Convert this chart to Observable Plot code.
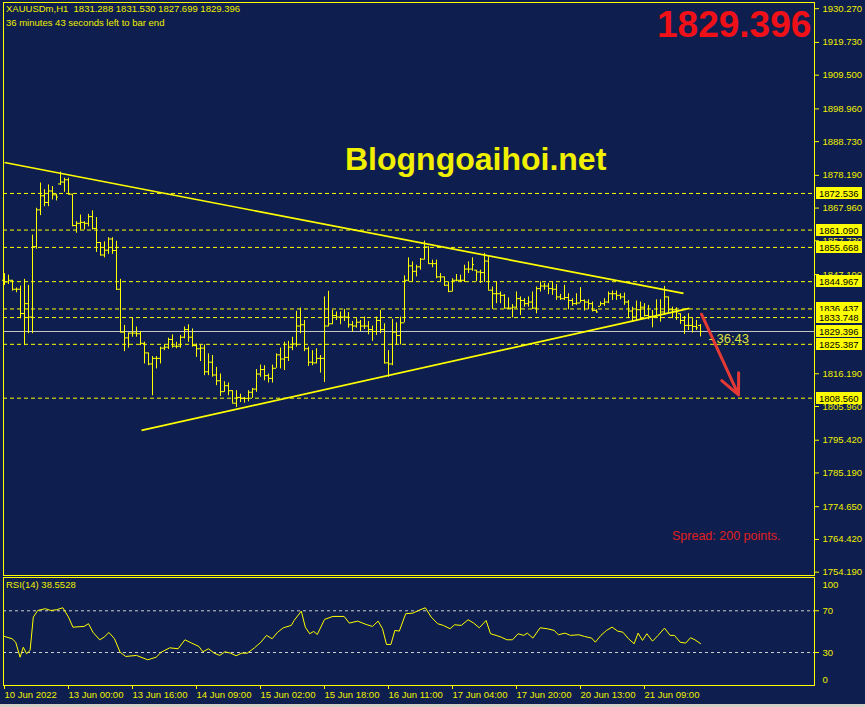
<!DOCTYPE html>
<html><head><meta charset="utf-8">
<script src="https://cdn.jsdelivr.net/npm/d3@7"></script>
<script src="https://cdn.jsdelivr.net/npm/@observablehq/plot@0.6"></script>
<style>
 html,body{margin:0;padding:0;background:#0e1e4e;}
 #wrap{position:relative;width:865px;height:707px;background:#0e1e4e;overflow:hidden;font-family:"Liberation Sans",Arial,sans-serif;}
 #main,#rsi{position:absolute;left:0;}
 #main{top:0;} #rsi{top:577px;}
 .t{position:absolute;white-space:nowrap;line-height:1;}
</style></head><body>
<div id="wrap">
<div id="main"></div><div id="rsi"></div>
<div class="t" id="hdr1" style="left:6px;top:4px;font-size:9.5px;color:#f0f000;"></div>
<div class="t" id="hdr2" style="left:6px;top:18px;font-size:9.5px;color:#f0f000;"></div>
<div class="t" id="bigPrice" style="left:657px;top:6px;font-size:37px;font-weight:bold;color:#f01018;"></div>
<div class="t" style="left:345px;top:143px;font-size:32px;font-weight:bold;color:#f0f000;">Blogngoaihoi.net</div>
<div class="t" style="left:672px;top:530px;font-size:12.5px;color:#e02020;">Spread: 200 points.</div>
<div class="t" id="rsiLbl" style="left:6px;top:580px;font-size:9.5px;color:#f0f000;"></div>
<div style="position:absolute;left:0;top:704px;width:865px;height:3px;background:#d4d0c8"></div>
</div>
<script>
// ---------- DATA ----------
const symbol = "XAUUSDm,H1";
const opens = [
1845.4,1844.9,1845.4,1842.6,1842.6,1835.0,1838.1,1833.9,1855.9,1867.4,
1871.8,1869.7,1873.3,1872.1,1875.5,1876.1,1876.8,1872.3,1862.5,1863.2,
1863.5,1863.2,1865.3,1861.6,1857.2,1853.3,1854.8,1858.3,1854.7,1842.6,
1829.2,1827.4,1828.9,1828.9,1828.7,1825.7,1822.7,1819.25,1821.0,1821.0,
1824.2,1824.5,1826.9,1824.8,1824.8,1827.6,1830.0,1827.6,1825.0,1824.0,
1824.2,1816.8,1819.8,1815.8,1814.0,1810.6,1812.45,1810.9,1807.0,1808.8,
1808.5,1808.5,1810.4,1811.4,1816.1,1817.5,1815.6,1814.75,1817.9,1822.1,
1820.8,1821.3,1824.5,1825.5,1831.1,1831.5,1824.0,1819.8,1819.6,1821.0,
1821.0,1831.1,1831.8,1834.4,1833.9,1833.9,1833.9,1831.5,1831.1,1832.3,
1831.1,1831.1,1830.0,1829.4,1832.85,1830.0,1819.6,1819.25,1829.2,1828.15,
1832.1,1845.4,1849.9,1848.2,1849.6,1852.0,1855.8,1850.6,1850.6,1846.45,
1846.45,1843.85,1841.95,1845.4,1845.4,1845.4,1848.9,1848.9,1848.55,1848.0,
1847.8,1851.4,1842.3,1841.2,1841.2,1840.7,1836.7,1836.7,1837.0,1839.65,
1839.1,1838.1,1838.6,1836.7,1842.8,1843.6,1843.6,1842.8,1842.6,1840.2,
1839.65,1840.0,1839.1,1838.1,1838.3,1839.1,1838.6,1838.1,1836.0,1837.25,
1838.1,1838.6,1841.2,1841.2,1840.7,1840.2,1838.6,1835.8,1833.9,1836.2,
1837.0,1834.4,1834.1,1833.9,1834.4,1835.5,1840.2,1836.2,1836.2,1834.95,
1832.85,1831.3,1831.3,1830.97,1831.288];
const highs = [
1847.5,1847.0,1845.4,1843.0,1843.6,1845.7,1843.8,1859.5,1867.9,1875.8,
1873.7,1875.2,1874.7,1872.3,1879.2,1877.3,1877.3,1872.3,1863.7,1865.8,
1863.7,1866.0,1867.1,1865.0,1857.2,1857.4,1858.7,1858.7,1857.6,1845.7,
1831.3,1828.9,1833.6,1830.8,1829.4,1826.05,1822.7,1821.55,1821.55,1824.5,
1825.2,1827.3,1828.35,1826.05,1828.15,1830.8,1831.5,1830.2,1825.5,1825.0,
1825.2,1822.4,1821.9,1818.2,1816.1,1813.7,1813.3,1810.9,1810.9,1809.8,
1808.8,1810.9,1811.6,1817.5,1818.9,1818.7,1816.1,1818.9,1822.4,1824.2,
1826.05,1826.3,1827.6,1835.7,1836.7,1832.85,1824.5,1823.4,1824.0,1821.9,
1840.2,1841.95,1836.0,1835.5,1835.5,1836.3,1835.3,1832.5,1833.4,1832.85,
1833.9,1832.5,1831.1,1833.9,1836.0,1831.8,1823.4,1833.2,1832.1,1833.9,
1846.8,1852.4,1851.15,1850.1,1852.2,1857.65,1855.9,1851.7,1851.7,1847.5,
1846.45,1844.9,1845.9,1847.2,1847.0,1850.1,1851.15,1852.4,1848.55,1848.55,
1853.8,1852.7,1843.3,1844.9,1841.75,1840.9,1839.9,1837.8,1841.75,1840.2,
1839.65,1840.2,1841.75,1843.3,1844.9,1844.4,1844.4,1844.9,1844.05,1841.0,
1843.85,1841.2,1839.65,1841.2,1843.1,1839.3,1839.3,1838.6,1836.2,1838.6,
1839.65,1841.75,1842.05,1842.05,1841.2,1841.4,1839.1,1837.0,1838.9,1838.6,
1838.1,1837.55,1836.0,1839.3,1839.3,1843.5,1840.2,1837.0,1836.8,1834.95,
1834.1,1834.95,1833.4,1832.85,1831.53];
const lows = [
1843.8,1844.1,1842.0,1841.5,1833.4,1825.0,1828.7,1828.7,1855.1,1865.6,
1868.4,1868.4,1870.5,1870.2,1875.0,1872.9,1872.3,1862.1,1860.1,1861.1,
1861.1,1862.1,1861.1,1854.1,1853.0,1852.4,1853.5,1853.5,1842.3,1829.2,
1823.1,1824.2,1827.6,1827.6,1825.0,1819.25,1818.7,1809.3,1817.7,1819.25,
1823.4,1823.75,1824.2,1824.0,1824.2,1827.1,1826.05,1824.5,1821.3,1820.0,
1815.6,1815.6,1815.1,1812.45,1809.1,1810.4,1809.3,1807.0,1805.65,1807.2,
1807.0,1807.4,1808.5,1810.4,1815.1,1814.0,1813.3,1813.3,1817.9,1817.7,
1817.2,1820.0,1823.4,1824.5,1828.7,1823.1,1818.5,1818.7,1819.25,1816.4,
1813.5,1830.8,1831.5,1832.85,1831.5,1832.5,1830.45,1829.2,1830.45,1829.4,
1830.0,1828.35,1826.3,1828.15,1828.7,1819.25,1815.1,1818.7,1825.2,1825.2,
1832.1,1844.9,1844.9,1846.45,1848.55,1851.7,1850.6,1849.3,1845.9,1844.9,
1843.6,1841.5,1841.75,1844.9,1844.9,1844.7,1847.5,1848.2,1844.9,1844.4,
1844.7,1842.3,1836.3,1838.1,1838.1,1836.5,1836.3,1833.6,1836.5,1834.4,
1837.0,1837.0,1836.3,1834.9,1841.75,1842.3,1840.9,1840.7,1839.1,1839.1,
1839.1,1836.2,1837.25,1837.55,1838.3,1835.8,1836.2,1835.5,1835.15,1837.25,
1837.25,1838.1,1839.1,1839.1,1839.3,1837.55,1833.4,1832.3,1832.6,1832.85,
1833.9,1833.05,1830.55,1833.4,1832.3,1834.4,1834.95,1833.4,1832.85,1831.6,
1828.5,1829.7,1828.9,1829.7,1827.699];
const closes = [
1844.9,1845.4,1842.6,1842.6,1835.0,1838.1,1833.9,1855.9,1867.4,1871.8,
1869.7,1873.3,1872.1,1871.4,1876.1,1876.8,1872.3,1862.5,1863.2,1863.5,
1863.2,1865.3,1861.6,1857.2,1853.3,1854.8,1858.3,1854.7,1842.6,1829.2,
1827.4,1828.9,1828.9,1828.7,1825.7,1822.7,1819.25,1821.0,1821.0,1824.2,
1824.5,1826.9,1824.8,1824.8,1827.6,1830.0,1827.6,1825.0,1824.0,1824.2,
1816.8,1819.8,1815.8,1814.0,1810.6,1812.45,1810.9,1807.0,1808.8,1808.5,
1808.5,1810.4,1811.4,1816.1,1817.5,1815.6,1814.75,1817.9,1822.1,1820.8,
1821.3,1824.5,1825.5,1831.1,1831.5,1824.0,1819.8,1819.6,1821.0,1821.0,
1831.1,1831.8,1834.4,1833.9,1833.9,1833.9,1831.5,1831.1,1832.3,1831.1,
1831.1,1830.0,1829.4,1832.85,1830.0,1819.6,1819.25,1829.2,1828.15,1832.1,
1845.4,1849.9,1848.2,1849.6,1852.0,1855.8,1850.6,1850.6,1846.45,1846.45,
1843.85,1841.95,1845.4,1845.4,1845.4,1848.9,1848.9,1850.3,1848.0,1847.8,
1851.4,1842.3,1841.2,1841.2,1840.7,1836.7,1836.7,1837.0,1839.65,1839.1,
1838.1,1838.6,1836.7,1842.8,1843.6,1843.6,1842.8,1842.6,1840.2,1839.65,
1840.0,1839.1,1838.1,1838.3,1839.1,1838.6,1838.1,1836.0,1835.5,1838.1,
1838.6,1841.2,1841.2,1840.7,1840.2,1838.6,1835.8,1833.9,1836.2,1837.0,
1834.4,1834.1,1833.9,1834.4,1835.5,1840.2,1836.2,1836.2,1835.5,1832.85,
1831.3,1831.3,1830.97,1830.55,1829.396];

// horizontal level lines (dashed) and their price boxes
const levels = [1872.536, 1861.090, 1855.668, 1844.967, 1836.437, 1833.748, 1825.387, 1808.560];
const bidLine = 1829.396;
const priceTicks = [1930.27,1919.73,1909.50,1898.96,1888.73,1878.19,1867.96,1857.73,1847.19,1816.19,1805.96,1795.42,1785.19,1774.65,1764.42,1754.19];

// trend lines: [bar index, price]
const trendUpperIdx = [0, 169.75],  trendUpperP = [1882.2, 1841.3];
const trendLowerIdx = [34.25, 171.2], trendLowerP = [1798.5, 1836.6];
// red forecast arrow
const arrowIdx = [174.25, 183.5], arrowP = [1834.8, 1809.6];

// RSI(14) vertices (bar index, value)
const rsiIdx = [0,1.9,2.8,3.9,4.7,5.5,6.4,7.2,8.3,10.2,11.6,13,14.6,16,17.1,19.9,21,22.1,23.8,24.9,
26.1,27.5,28.9,30.3,33,35.8,37.9,39.2,41.3,43.4,45.1,46.8,48.6,49.6,51,52.4,53.8,55.1,56.5,57.9,
59.3,60.7,62.5,64.1,65.5,66.9,68.3,69.7,71.7,72.4,74.2,75.2,76.3,77.3,78.2,80,82.1,84.9,86.2,88.3,
90.4,92,93.4,94.5,95.5,96.6,97.6,98.7,100.3,102.1,103.5,105.2,106.7,108.3,109.7,111.4,112.5,114.2,115.9,117.3,
118.7,120.4,121.5,122.9,124.2,125.6,127,128.4,129.8,130.7,132.1,133.9,135.7,137.4,138.5,140.1,141.5,143.6,145,146.8,
147.7,149.1,150.5,151.9,153.3,154.6,156,157.4,158.4,159.5,160.6,162,163.4,165,166.4,167.5,168.9,170.3,171.5,172.6,174];
const rsiVal = [45.4,43.2,39.9,25.5,35.1,28.8,32.0,63.9,70.3,72.0,70.3,71.0,72.9,63.9,54.3,55.0,57.6,49.5,42.2,44.7,
49.2,43.2,30.3,26.2,27.2,23.0,25.5,30.3,34.5,33.6,42.2,39.0,35.8,30.7,33.6,29.4,27.2,30.7,29.4,26.9,
29.4,29.4,34.5,39.9,46.4,43.2,49.5,53.7,56.0,60.7,69.7,54.3,48.0,50.2,47.3,61.7,64.6,64.6,58.2,60.1,
56.9,55.0,60.1,52.8,37.7,37.7,51.2,50.5,67.2,67.8,70.3,72.9,63.9,57.6,56.0,52.8,56.6,56.0,61.4,58.2,
53.7,60.7,48.0,46.4,44.7,42.2,42.2,48.0,46.4,48.6,43.8,53.7,52.8,51.2,47.0,48.6,46.4,47.0,45.4,43.8,
39.9,46.4,51.2,54.3,50.5,49.5,43.2,38.4,48.6,41.6,48.0,40.9,46.4,53.4,46.4,46.4,39.9,39.0,44.2,42.2,38.5528];
const rsiLevels = [70, 30];

// time axis
const timeTickIdx = [0,16,32,48,64,80,96,112,128,144,160];
const timeLabels = ["10 Jun 2022","13 Jun 00:00","13 Jun 16:00","14 Jun 09:00","15 Jun 02:00","15 Jun 18:00","16 Jun 11:00","17 Jun 04:00","17 Jun 20:00","20 Jun 13:00","21 Jun 09:00"];
const timerText = "36:43";

// ---------- BUILD ----------
const YEL = "#ffff00", TXT = "#f0f000";
const N = closes.length;
const bars = closes.map((c, i) => ({i, open: opens[i], high: highs[i], low: lows[i], close: c}));
const last = bars[N - 1];
const trends = [
  {x1: trendUpperIdx[0], y1: trendUpperP[0], x2: trendUpperIdx[1], y2: trendUpperP[1]},
  {x1: trendLowerIdx[0], y1: trendLowerP[0], x2: trendLowerIdx[1], y2: trendLowerP[1]}
];
const rsi = rsiIdx.map((x, k) => ({x, v: rsiVal[k]}));
const xDomain = [-0.25, 202.5];

document.getElementById("hdr1").innerHTML = `${symbol}&nbsp;&nbsp;${last.open.toFixed(3)} ${last.high.toFixed(3)} ${last.low.toFixed(3)} ${last.close.toFixed(3)}`;
document.getElementById("hdr2").textContent = "36 minutes 43 seconds left to bar end";
document.getElementById("bigPrice").textContent = last.close.toFixed(3);
document.getElementById("rsiLbl").textContent = `RSI(14) ${rsiVal[rsiVal.length - 1].toFixed(4)}`;

const main = Plot.plot({
  width: 865, height: 577,
  marginLeft: 3, marginRight: 51, marginTop: 2, marginBottom: 2,
  x: {domain: xDomain, axis: null},
  y: {domain: [1753.15, 1932.2], axis: null},
  style: {background: "transparent", color: YEL, fontFamily: "Liberation Sans, Arial, sans-serif", fontSize: "9.5px", overflow: "visible"},
  marks: [
    Plot.ruleY(levels, {y: d => d, stroke: YEL, strokeDasharray: "4,3"}),
    Plot.ruleY([bidLine], {y: d => d, stroke: "#c8c8c8"}),
    Plot.ruleX(bars, {x: "i", y1: "low", y2: "high", stroke: YEL}),
    Plot.ruleY(bars, {y: "open", x1: d => d.i - 0.5, x2: "i", stroke: YEL}),
    Plot.ruleY(bars, {y: "close", x1: "i", x2: d => d.i + 0.5, stroke: YEL}),
    Plot.link(trends, {x1: "x1", y1: "y1", x2: "x2", y2: "y2", stroke: YEL, strokeWidth: 1.7}),
    Plot.arrow([0], {x1: () => arrowIdx[0], y1: () => arrowP[0], x2: () => arrowIdx[1], y2: () => arrowP[1], stroke: "#e53935", strokeWidth: 3, headLength: 11, headAngle: 50}),
    Plot.text([last], {x: "i", y: "close", text: () => "- " + timerText, textAnchor: "start", dx: 8, dy: 7, fill: "#dfe040", fontSize: 13}),
    Plot.axisY(priceTicks, {anchor: "right", tickSize: 4, tickPadding: 4, tickFormat: d => d.toFixed(3), stroke: YEL, fill: TXT, textAnchor: "start", fontSize: 9.5, label: null}),
    Plot.frame({stroke: YEL})
  ]
});
document.getElementById("main").appendChild(main);

// price boxes on the right scale
const ys = main.scale("y");
const svgM = d3.select(main);
const boxG = svgM.append("g").attr("text-anchor", "start");
const boxVals = [...levels.slice(0, 6), bidLine, ...levels.slice(6)];
for (const v of boxVals) {
  const y = ys.apply(v);
  boxG.append("rect").attr("x", 816).attr("y", Math.round(y) - 6).attr("width", 46).attr("height", 12).attr("fill", YEL);
  boxG.append("text").attr("x", 819).attr("y", Math.round(y) + 4).attr("fill", "#000").attr("font-size", "9.5px")
    .attr("text-anchor", "start")
    .attr("font-family", "Liberation Sans, Arial, sans-serif").text(v.toFixed(3));
}

const rsiPlot = Plot.plot({
  width: 865, height: 130,
  marginLeft: 3, marginRight: 51, marginTop: 0, marginBottom: 22,
  x: {domain: xDomain, axis: null},
  y: {domain: [-1.63, 101.92], axis: null},
  style: {background: "transparent", color: YEL, fontFamily: "Liberation Sans, Arial, sans-serif", fontSize: "9.5px", overflow: "visible"},
  marks: [
    Plot.ruleY(rsiLevels, {y: d => d, stroke: "#d0d0d0", strokeDasharray: "3,3"}),
    Plot.line(rsi, {x: "x", y: "v", stroke: YEL, strokeWidth: 1}),
    Plot.axisY(rsiLevels, {anchor: "right", tickSize: 4, tickPadding: 4, stroke: YEL, fill: TXT, textAnchor: "start", fontSize: 9.5, label: null}),
    Plot.text([100], {y: d => d, frameAnchor: "right", dx: 8, dy: 5, text: d => String(d), fill: TXT, textAnchor: "start", fontSize: 9.5}),
    Plot.text([0], {y: d => d, frameAnchor: "right", dx: 8, dy: -4, text: d => String(d), fill: TXT, textAnchor: "start", fontSize: 9.5}),
    Plot.axisX(timeTickIdx, {anchor: "bottom", tickSize: 4, tickPadding: 2, tickFormat: (d, k) => timeLabels[timeTickIdx.indexOf(d)], stroke: YEL, fill: TXT, textAnchor: "start", fontSize: 9.5, label: null}),
    Plot.frame({stroke: YEL})
  ]
});
document.getElementById("rsi").appendChild(rsiPlot);
</script>
</body></html>
